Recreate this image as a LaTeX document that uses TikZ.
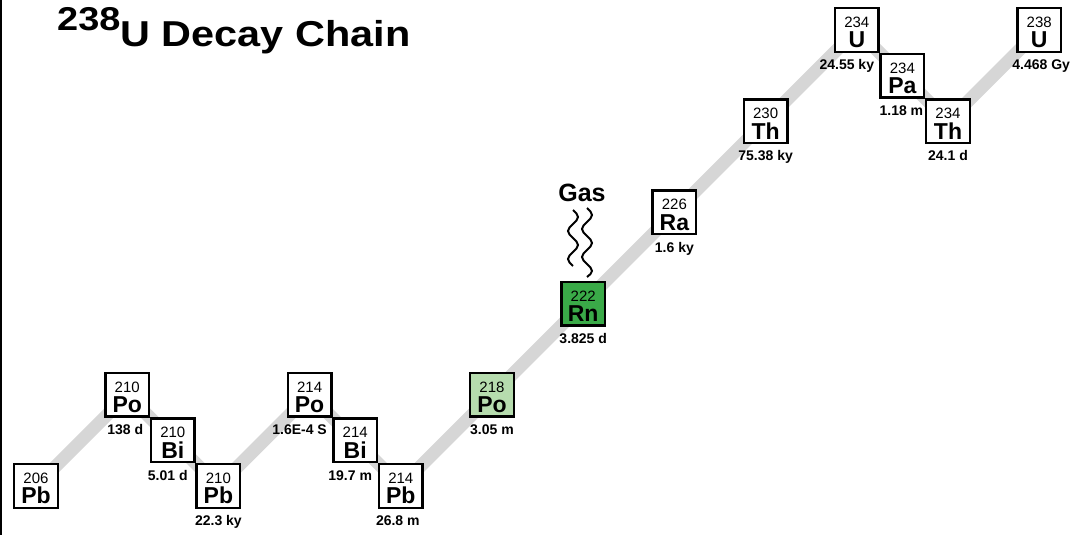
\documentclass[tikz,border=0pt]{standalone}
\usepackage{fontspec}
\setmainfont{Liberation Sans}
\usepackage{xcolor}
\usepackage{tikz}
\usetikzlibrary{backgrounds}

\definecolor{bandgray}{RGB}{214,214,214}
\definecolor{rngreen}{RGB}{58,170,72}
\definecolor{pogreen}{RGB}{182,220,174}

\begin{document}
\begin{tikzpicture}[x=45.6pt, y=45.6pt,
  nuc/.style={draw, line width=2.4pt, fill=white, minimum size=43.6pt, inner sep=0pt},
  mass/.style={font=\fontsize{15}{15}\selectfont, text height=11pt, text depth=0pt, inner sep=0pt, yshift=8pt},
  sym/.style={font=\fontsize{23}{23}\selectfont\bfseries, text height=17pt, text depth=0pt, inner sep=0pt, yshift=-9.5pt},
  life/.style={font=\fontsize{14}{14}\selectfont\bfseries, text height=10pt, text depth=3pt, inner sep=0pt, yshift=-6.5pt},
  band/.style={bandgray, line width=13pt},
  wave/.style={line width=2pt},
  title/.style={font=\fontsize{36}{36}\selectfont\bfseries, inner sep=0pt}]
\useasboundingbox (-36pt,-49pt) rectangle (1043pt,486pt);
\draw[line width=2pt] (-35pt,-49pt) -- (-35pt,486pt);
%
\node[title, anchor=base west] (title) at (21pt,439pt)
  {\scalebox{1.15}[1]{\raisebox{16pt}{\fontsize{33}{33}\selectfont 238}U Decay Chain}};
%
% lead end of the chain
\node[nuc, label={[mass]center:206}, label={[sym]center:Pb}] (pb206) at (0,0) {};
\node[nuc, label={[mass]center:210}, label={[sym]center:Po}, label={[life, xshift=-2pt]below:138 d}] (po210) at (2,2) {};
\node[nuc, label={[mass]center:210}, label={[sym]center:Bi}, label={[life, xshift=-5pt]below:5.01 d}] (bi210) at (3,1) {};
\node[nuc, label={[mass]center:210}, label={[sym]center:Pb}, label={[life]below:22.3 ky}] (pb210) at (4,0) {};
%
\node[nuc, label={[mass]center:214}, label={[sym]center:Po}, label={[life, xshift=-10pt]below:1.6E-4 S}] (po214) at (6,2) {};
\node[nuc, label={[mass]center:214}, label={[sym]center:Bi}, label={[life, xshift=-5pt]below:19.7 m}] (bi214) at (7,1) {};
\node[nuc, label={[mass]center:214}, label={[sym]center:Pb}, label={[life, xshift=-3pt]below:26.8 m}] (pb214) at (8,0) {};
%
\node[nuc, fill=pogreen, label={[mass]center:218}, label={[sym]center:Po}, label={[life]below:3.05 m}] (po218) at (10,2) {};
\node[nuc, fill=rngreen, label={[mass]center:222}, label={[sym]center:Rn}, label={[life]below:3.825 d}] (rn222) at (12,4) {};
\node[nuc, label={[mass]center:226}, label={[sym]center:Ra}, label={[life]below:1.6 ky}] (ra226) at (14,6) {};
\node[nuc, label={[mass]center:230}, label={[sym]center:Th}, label={[life]below:75.38 ky}] (th230) at (16,8) {};
%
% uranium end of the chain
\node[nuc, label={[mass]center:234}, label={[sym]center:U}, label={[life, xshift=-10pt]below:24.55 ky}] (u234) at (18,10) {};
\node[nuc, label={[mass]center:234}, label={[sym]center:Pa}, label={[life, xshift=-1pt]below:1.18 m}] (pa234) at (19,9) {};
\node[nuc, label={[mass]center:234}, label={[sym]center:Th}, label={[life]below:24.1 d}] (th234) at (20,8) {};
\node[nuc, label={[mass]center:238}, label={[sym]center:U}, label={[life, xshift=2pt]below:4.468 Gy}] (u238) at (22,10) {};
%
\begin{scope}[on background layer]
\draw[band] (pb206.center) -- (po210.center) -- (bi210.center) -- (pb210.center)
  -- (po214.center) -- (bi214.center) -- (pb214.center) -- (po218.center)
  -- (rn222.center) -- (ra226.center) -- (th230.center) -- (u234.center)
  -- (pa234.center) -- (th234.center) -- (u238.center);
\end{scope}
%
% radon escapes as a gas
\node[title, font=\fontsize{25}{25}\selectfont\bfseries] (gas) at (546pt,293pt) {Gas};
\begin{scope}[shift={(537pt,276pt)}, rotate=-90]
\draw[wave] (0pt,0pt) sin (7pt,5pt) cos (14pt,0pt) sin (21pt,-5pt) cos (28pt,0pt)
  sin (35pt,5pt) cos (42pt,0pt) sin (49pt,-5pt) cos (56pt,0pt);
\end{scope}
\begin{scope}[shift={(551pt,278pt)}, rotate=-90]
\draw[wave] (0pt,0pt) sin (7pt,5pt) cos (14pt,0pt) sin (21pt,-5pt) cos (28pt,0pt)
  sin (35pt,5pt) cos (42pt,0pt) sin (49pt,-5pt) cos (56pt,0pt) sin (63pt,5pt) cos (69pt,0pt);
\end{scope}
\end{tikzpicture}
\end{document}
